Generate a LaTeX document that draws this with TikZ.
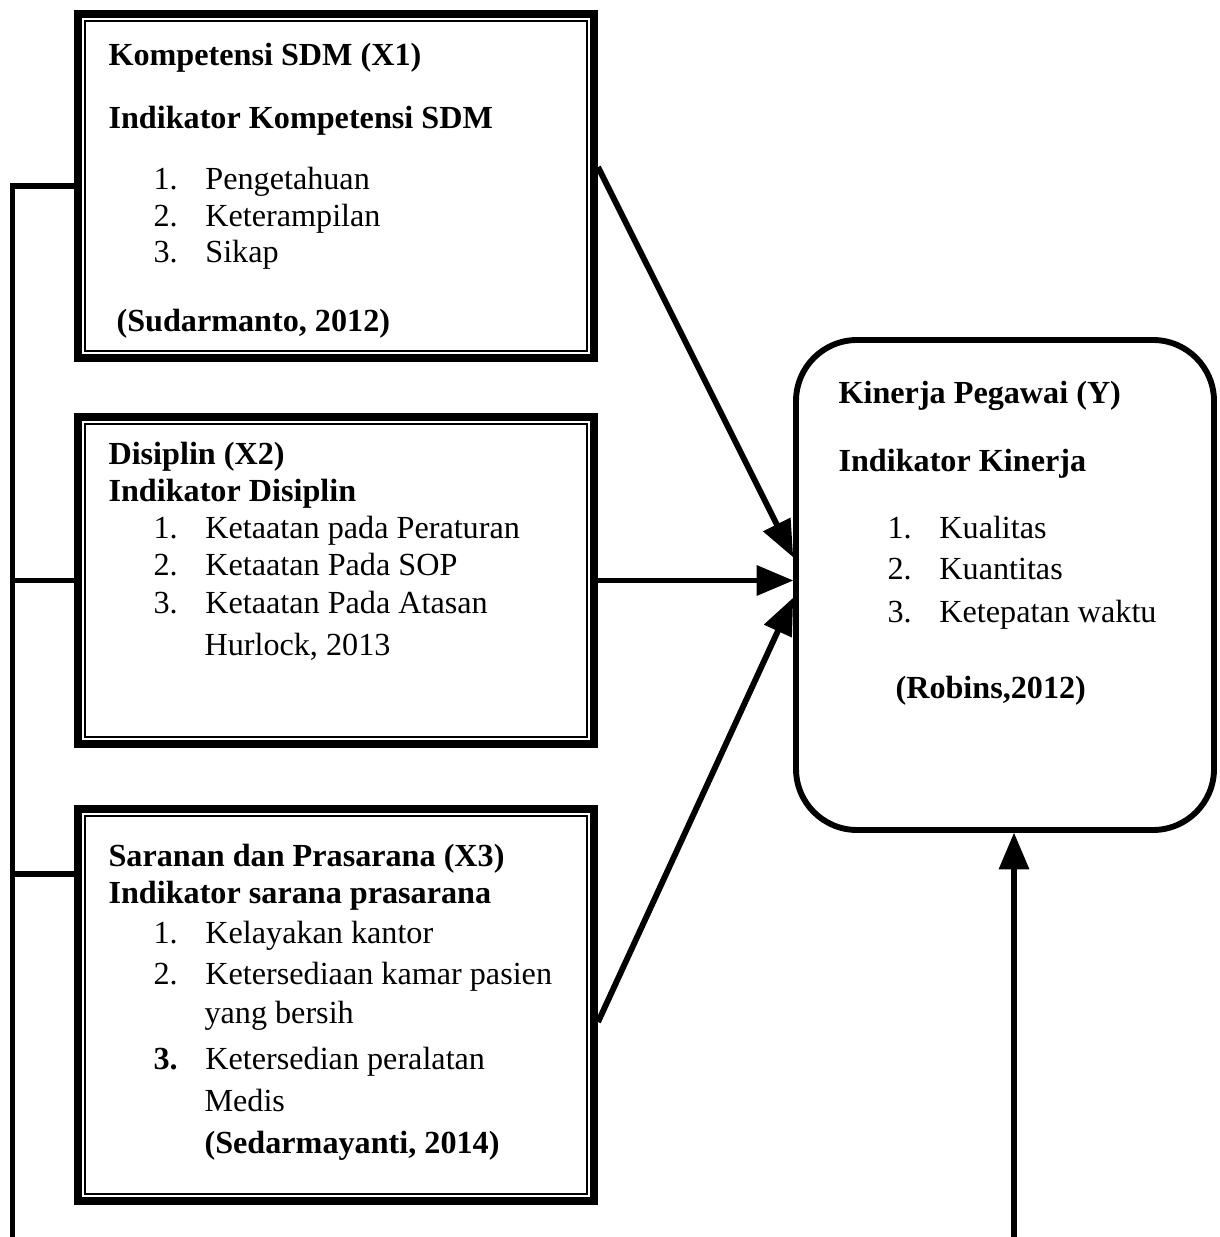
\documentclass[tikz,border=0pt]{standalone}
\usepackage{fontspec}
\setmainfont{Liberation Serif}
\usepackage{tikz}
\usetikzlibrary{arrows}

\newcommand{\pxu}{0.0131cm}
\newcommand{\nomor}[2]{\makebox[0.68cm][l]{#1}#2}

\begin{document}
\begin{tikzpicture}[>=triangle 45,x=\pxu,y=-\pxu,
    kotak/.style={draw,rectangle,line width=3pt,line join=miter,inner sep=0pt},
    tipis/.style={line width=0.75pt},
    garis/.style={line width=2.2pt,line join=miter},
    panah/.style={->,line width=2.2pt},
    teks/.style={anchor=base west,inner sep=0pt,font=\fontsize{12}{14}\selectfont},
    judul/.style={teks,font=\fontsize{12}{14}\selectfont\bfseries}]
        \useasboundingbox (0,0) rectangle (1219,1237);
        % kotak variabel
        \node[kotak,minimum width=516*\pxu,minimum height=344*\pxu] (x1) at (336,186) {};
        \node[kotak,minimum width=516*\pxu,minimum height=327*\pxu] (x2) at (336,580.5) {};
        \node[kotak,minimum width=516*\pxu,minimum height=392*\pxu] (x3) at (336,1005) {};
        \node[draw,line width=2.2pt,rounded corners=0.8cm,minimum width=418*\pxu,minimum height=490*\pxu] (kinerja) at (1005,585) {};
        \draw[tipis] ([shift={(11,11)}]x1.north west) rectangle ([shift={(-11,-11)}]x1.south east);
        \draw[tipis] ([shift={(11,11)}]x2.north west) rectangle ([shift={(-11,-11)}]x2.south east);
        \draw[tipis] ([shift={(11,11)}]x3.north west) rectangle ([shift={(-11,-11)}]x3.south east);
        % X1
        \node[judul] (j1a) at (108,66) {Kompetensi SDM (X1)};
        \node[judul] (j1b) at (108,129) {Indikator Kompetensi SDM};
        \node[teks] (i11) at (153,190) {\nomor{1.}{Pengetahuan}};
        \node[teks] (i12) at (153,227) {\nomor{2.}{Keterampilan}};
        \node[teks] (i13) at (153,263) {\nomor{3.}{Sikap}};
        \node[judul] (s1) at (116,332) {(Sudarmanto, 2012)};
        % X2
        \node[judul] (j2a) at (108,465) {Disiplin (X2)};
        \node[judul] (j2b) at (108,502) {Indikator Disiplin};
        \node[teks] (i21) at (153,539) {\nomor{1.}{Ketaatan pada Peraturan}};
        \node[teks] (i22) at (153,576) {\nomor{2.}{Ketaatan Pada SOP}};
        \node[teks] (i23) at (153,613) {\nomor{3.}{Ketaatan Pada Atasan}};
        \node[teks] (s2) at (204,655) {Hurlock, 2013};
        % X3
        \node[judul] (j3a) at (108,866) {Saranan dan Prasarana (X3)};
        \node[judul] (j3b) at (108,903) {Indikator sarana prasarana};
        \node[teks] (i31) at (153,943) {\nomor{1.}{Kelayakan kantor}};
        \node[teks] (i32) at (153,984) {\nomor{2.}{Ketersediaan kamar pasien}};
        \node[teks] (i32b) at (204,1023) {yang bersih};
        \node[teks] (i33) at (153,1069) {\nomor{\textbf{3.}}{Ketersedian peralatan}};
        \node[teks] (i33b) at (204,1111) {Medis};
        \node[judul] (s3) at (204,1153) {(Sedarmayanti, 2014)};
        % Y
        \node[judul] (jya) at (838,404) {Kinerja Pegawai (Y)};
        \node[judul] (jyb) at (838,472) {Indikator Kinerja};
        \node[teks] (iy1) at (887,539) {\nomor{1.}{Kualitas}};
        \node[teks] (iy2) at (887,580) {\nomor{2.}{Kuantitas}};
        \node[teks] (iy3) at (887,622) {\nomor{3.}{Ketepatan waktu}};
        \node[judul] (sy) at (895,698) {(Robins,2012)};
        % garis kiri
        \coordinate (kiri) at (12.5,1237);
        \coordinate (bawah) at (1014,1237);
        \draw[garis] (x1.west) -| (kiri);
        \draw[garis] (x2.west) -- (x2.west -| kiri);
        \draw[garis] (x3.west |- 0,874) -- (12.5,874);
        % panah
        \draw[panah] (x1.east |- 0,167) -- (kinerja.west |- 0,557);
        \draw[panah] (x2.east) -- (kinerja.west |- x2.east);
        \draw[panah] (x3.east |- 0,1022) -- (kinerja.west |- 0,598);
        \draw[panah] (bawah) -- (bawah |- kinerja.south);
\end{tikzpicture}
\end{document}
